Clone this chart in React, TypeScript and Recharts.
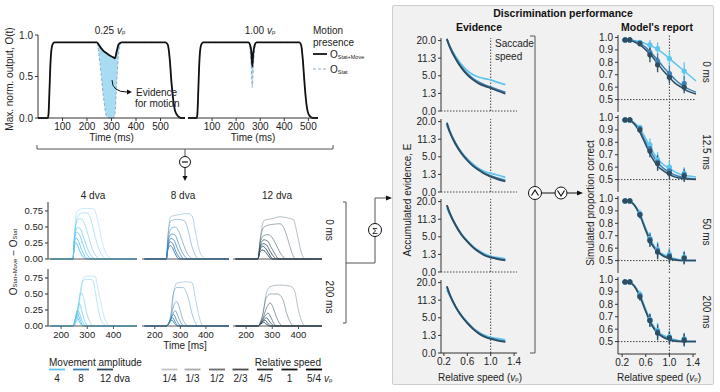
import React from "react";
import {
  LineChart,
  ComposedChart,
  Line,
  Area,
  Scatter,
  ErrorBar,
  XAxis,
  YAxis,
  ReferenceLine,
} from "recharts";

type Pt = [number, number];

const FONT = "'Liberation Sans', Arial, Helvetica, sans-serif";
const INK = "#222";
const PAD = 6; // room above/below the plot so edge tick labels are not clipped

// --- top: max. normalised output over time, for 0.25 vp and 1.00 vp ---
const t25 = [0, 40, 43, 47, 50, 54, 60, 68, 240, 253, 267, 280, 295, 308, 314, 321, 328, 334, 341, 520, 530, 538, 545, 552, 560, 572, 586, 600];
const move25 = [0, 0, 0.05, 0.35, 0.6, 0.8, 0.89, 0.912, 0.912, 0.86, 0.81, 0.78, 0.75, 0.73, 0.72, 0.8, 0.88, 0.9, 0.912, 0.912, 0.88, 0.7, 0.42, 0.22, 0.08, 0.02, 0, 0];
const stat25 = [0, 0, 0.05, 0.35, 0.6, 0.8, 0.89, 0.912, 0.912, 0.66, 0.26, 0.02, 0, 0, 0.05, 0.42, 0.75, 0.87, 0.912, 0.912, 0.88, 0.7, 0.42, 0.22, 0.08, 0.02, 0, 0];

const t100 = [0, 36, 39, 43, 46, 50, 56, 64, 251, 258, 263, 267, 271, 277, 285, 462, 470, 477, 484, 490, 497, 507, 520, 540];
const move100 = [0, 0, 0.05, 0.35, 0.6, 0.8, 0.89, 0.912, 0.912, 0.88, 0.8, 0.62, 0.78, 0.88, 0.912, 0.912, 0.88, 0.7, 0.42, 0.22, 0.08, 0.02, 0, 0];
const stat100 = [0, 0, 0.05, 0.35, 0.6, 0.8, 0.89, 0.912, 0.912, 0.82, 0.6, 0.37, 0.6, 0.82, 0.912, 0.912, 0.88, 0.7, 0.42, 0.22, 0.08, 0.02, 0, 0];

const timeTicksTop = [100, 200, 300, 400, 500];

// --- grid: O_Stat+Move - O_Stat, one curve per relative speed (1/4 ... 5/4) ---
const speedLabels = ["1/4", "1/3", "1/2", "2/3", "4/5", "1", "5/4"];
const ampLabels = ["4", "8", "12 dva"];
const BASE_START: Pt = [160, 0];
const BASE_END: Pt = [490, 0];

const amp4_0ms: Pt[][] = [
  [[245, 0], [252, 0.45], [260, 0.74], [275, 0.78], [300, 0.79], [325, 0.78], [340, 0.6], [355, 0.3], [370, 0.1], [385, 0.02], [400, 0]],
  [[245, 0], [252, 0.4], [262, 0.65], [280, 0.72], [300, 0.72], [315, 0.6], [330, 0.35], [345, 0.15], [360, 0.04], [375, 0]],
  [[245, 0], [252, 0.4], [265, 0.62], [275, 0.63], [290, 0.55], [305, 0.35], [320, 0.15], [335, 0.04], [350, 0]],
  [[245, 0], [252, 0.35], [262, 0.49], [272, 0.48], [285, 0.35], [300, 0.17], [315, 0.05], [330, 0]],
  [[245, 0], [252, 0.32], [260, 0.42], [270, 0.38], [282, 0.25], [295, 0.1], [310, 0.02], [325, 0]],
  [[245, 0], [251, 0.25], [258, 0.33], [266, 0.28], [278, 0.15], [292, 0.04], [305, 0]],
  [[245, 0], [251, 0.2], [256, 0.26], [264, 0.2], [275, 0.09], [288, 0.02], [300, 0]],
];
const amp4_200ms: Pt[][] = [
  [[245, 0], [262, 0.1], [275, 0.5], [285, 0.75], [300, 0.78], [330, 0.78], [340, 0.6], [355, 0.3], [370, 0.08], [385, 0]],
  [[245, 0], [260, 0.1], [272, 0.5], [282, 0.7], [300, 0.73], [320, 0.72], [332, 0.5], [345, 0.2], [360, 0.04], [375, 0]],
  [[245, 0], [258, 0.1], [268, 0.4], [277, 0.52], [285, 0.45], [298, 0.2], [312, 0.05], [325, 0]],
  [[245, 0], [256, 0.12], [265, 0.3], [270, 0.35], [278, 0.25], [290, 0.08], [305, 0]],
  [[245, 0], [255, 0.12], [262, 0.24], [268, 0.22], [278, 0.1], [290, 0.02], [300, 0]],
  [[245, 0], [254, 0.1], [260, 0.2], [266, 0.17], [275, 0.07], [288, 0]],
  [[245, 0], [253, 0.08], [258, 0.15], [264, 0.12], [272, 0.05], [285, 0]],
];
const amp8_0ms: Pt[][] = [
  [[245, 0], [252, 0.4], [262, 0.66], [290, 0.69], [330, 0.71], [345, 0.68], [360, 0.4], [375, 0.12], [390, 0.02], [400, 0]],
  [[245, 0], [252, 0.38], [264, 0.6], [290, 0.62], [315, 0.6], [330, 0.45], [345, 0.2], [360, 0.05], [375, 0]],
  [[245, 0], [252, 0.3], [265, 0.48], [280, 0.5], [295, 0.42], [310, 0.25], [325, 0.1], [340, 0.02], [350, 0]],
  [[245, 0], [252, 0.26], [265, 0.39], [278, 0.38], [292, 0.25], [305, 0.12], [320, 0.03], [335, 0]],
  [[245, 0], [252, 0.22], [263, 0.32], [274, 0.3], [288, 0.17], [300, 0.07], [315, 0]],
  [[245, 0], [251, 0.18], [261, 0.27], [270, 0.24], [282, 0.12], [295, 0.03], [310, 0]],
  [[245, 0], [251, 0.14], [259, 0.21], [268, 0.18], [280, 0.08], [295, 0]],
];
const amp8_200ms: Pt[][] = [
  [[245, 0], [262, 0.15], [275, 0.55], [285, 0.67], [320, 0.69], [345, 0.68], [360, 0.4], [375, 0.12], [390, 0]],
  [[245, 0], [262, 0.15], [272, 0.5], [285, 0.6], [310, 0.6], [330, 0.45], [345, 0.2], [360, 0.04], [372, 0]],
  [[245, 0], [262, 0.12], [275, 0.33], [285, 0.38], [295, 0.3], [308, 0.12], [322, 0.02], [335, 0]],
  [[245, 0], [260, 0.08], [272, 0.2], [280, 0.24], [290, 0.16], [302, 0.05], [315, 0]],
  [[245, 0], [258, 0.07], [268, 0.16], [274, 0.18], [284, 0.1], [296, 0.02], [308, 0]],
  [[245, 0], [256, 0.05], [265, 0.12], [270, 0.13], [280, 0.06], [292, 0]],
  [[245, 0], [255, 0.04], [262, 0.08], [268, 0.09], [277, 0.04], [290, 0]],
];
const amp12_0ms: Pt[][] = [
  [[245, 0], [255, 0.35], [268, 0.6], [300, 0.63], [330, 0.66], [360, 0.64], [380, 0.62], [395, 0.4], [410, 0.12], [425, 0]],
  [[245, 0], [255, 0.32], [268, 0.5], [300, 0.54], [330, 0.55], [345, 0.48], [360, 0.3], [375, 0.1], [390, 0]],
  [[245, 0], [255, 0.28], [270, 0.37], [285, 0.38], [300, 0.33], [315, 0.22], [330, 0.1], [345, 0.02], [355, 0]],
  [[245, 0], [255, 0.22], [268, 0.3], [282, 0.28], [296, 0.18], [310, 0.08], [325, 0]],
  [[245, 0], [254, 0.18], [265, 0.24], [278, 0.22], [292, 0.12], [305, 0.04], [318, 0]],
  [[245, 0], [253, 0.14], [263, 0.2], [274, 0.17], [288, 0.08], [302, 0]],
  [[245, 0], [252, 0.1], [262, 0.14], [272, 0.12], [285, 0.05], [298, 0]],
];
const amp12_200ms: Pt[][] = [
  [[245, 0], [262, 0.15], [280, 0.55], [295, 0.62], [330, 0.64], [370, 0.62], [385, 0.55], [400, 0.25], [415, 0.05], [425, 0]],
  [[245, 0], [262, 0.15], [278, 0.45], [295, 0.5], [320, 0.5], [340, 0.42], [355, 0.2], [370, 0.05], [385, 0]],
  [[245, 0], [262, 0.1], [280, 0.3], [292, 0.36], [302, 0.3], [315, 0.15], [330, 0.03], [340, 0]],
  [[245, 0], [260, 0.08], [275, 0.17], [284, 0.2], [294, 0.14], [306, 0.04], [318, 0]],
  [[245, 0], [258, 0.05], [270, 0.11], [278, 0.13], [288, 0.08], [300, 0.02], [310, 0]],
  [[245, 0], [256, 0.04], [266, 0.08], [272, 0.09], [282, 0.05], [295, 0]],
  [[245, 0], [255, 0.03], [263, 0.05], [268, 0.06], [277, 0.03], [290, 0]],
];

// --- evidence E vs relative speed (light = 4, mid = 8, dark = 12 dva) ---
const evX = [0.25, 0.3, 0.4, 0.5, 0.6, 0.7, 0.8, 0.9, 1.0, 1.1, 1.25];
const ev0ms = [
  [20.5, 17, 12, 8.7, 6.6, 5.3, 4.6, 4.2, 3.9, 3.4, 2.8],
  [21, 16.8, 11.3, 7.8, 5.6, 4.2, 3.3, 2.7, 2.3, 1.9, 1.4],
  [21, 16.5, 11, 7.5, 5.3, 3.9, 3.0, 2.5, 2.1, 1.7, 1.2],
];
const ev12ms = [
  [18, 14.5, 9.5, 6.4, 4.4, 3.1, 2.2, 1.7, 1.4, 1.2, 0.85],
  [19.5, 15, 9.5, 6.2, 4.2, 2.8, 2.0, 1.4, 1.05, 0.8, 0.55],
  [19, 14.5, 9.2, 6.0, 4.0, 2.7, 1.9, 1.3, 0.95, 0.7, 0.45],
];
const ev50ms = [
  [16.5, 13.5, 8.8, 5.8, 3.9, 2.6, 1.8, 1.3, 1.0, 0.85, 0.7],
  [18, 14, 8.9, 5.7, 3.8, 2.5, 1.7, 1.15, 0.9, 0.75, 0.6],
  [18, 14, 8.8, 5.6, 3.7, 2.4, 1.6, 1.1, 0.85, 0.7, 0.55],
];
const ev200ms = [
  [16, 13.2, 8.6, 5.7, 3.8, 2.5, 1.7, 1.25, 1.0, 0.85, 0.7],
  [17.5, 13.8, 8.7, 5.6, 3.7, 2.4, 1.6, 1.1, 0.85, 0.7, 0.55],
  [18, 13.8, 8.6, 5.5, 3.6, 2.3, 1.5, 1.05, 0.8, 0.65, 0.5],
];
const evTicks = [0, 1.25, 5, 11.25, 20];

// --- model's report: simulated proportion correct ---
const ptX = [0.25, 0.33, 0.5, 0.67, 0.8, 1.0, 1.25];
const fitX = [0.2, 0.3, 0.4, 0.5, 0.6, 0.7, 0.8, 0.9, 1.0, 1.1, 1.2, 1.3, 1.45];

const rep0Pts = [
  [0.98, 0.98, 0.96, 0.94, 0.91, 0.83, 0.73],
  [0.98, 0.98, 0.955, 0.88, 0.81, 0.71, 0.63],
  [0.98, 0.98, 0.95, 0.86, 0.78, 0.68, 0.6],
];
const rep0Err = [
  [0.005, 0.005, 0.02, 0.04, 0.05, 0.06, 0.07],
  [0.005, 0.005, 0.02, 0.05, 0.06, 0.06, 0.06],
  [0.005, 0.005, 0.02, 0.06, 0.06, 0.05, 0.05],
];
const rep0Fit = [
  [0.98, 0.98, 0.975, 0.965, 0.95, 0.93, 0.905, 0.87, 0.83, 0.79, 0.75, 0.71, 0.65],
  [0.98, 0.98, 0.97, 0.95, 0.92, 0.87, 0.82, 0.76, 0.71, 0.66, 0.62, 0.59, 0.56],
  [0.98, 0.98, 0.965, 0.94, 0.9, 0.85, 0.79, 0.73, 0.68, 0.63, 0.6, 0.57, 0.545],
];
const rep12Pts = [
  [0.98, 0.98, 0.92, 0.78, 0.66, 0.6, 0.55],
  [0.98, 0.98, 0.91, 0.75, 0.64, 0.57, 0.54],
  [0.98, 0.98, 0.9, 0.73, 0.63, 0.55, 0.53],
];
const rep12Err = [
  [0.005, 0.005, 0.02, 0.05, 0.06, 0.05, 0.05],
  [0.005, 0.005, 0.02, 0.05, 0.06, 0.05, 0.05],
  [0.005, 0.005, 0.02, 0.05, 0.06, 0.05, 0.05],
];
const rep12Fit = [
  [0.98, 0.98, 0.96, 0.91, 0.83, 0.74, 0.67, 0.62, 0.59, 0.56, 0.54, 0.53, 0.52],
  [0.98, 0.98, 0.955, 0.895, 0.8, 0.71, 0.64, 0.59, 0.56, 0.535, 0.52, 0.51, 0.505],
  [0.98, 0.98, 0.95, 0.88, 0.78, 0.68, 0.61, 0.57, 0.54, 0.52, 0.51, 0.505, 0.5],
];
const rep50Pts = [
  [0.98, 0.98, 0.88, 0.68, 0.59, 0.55, 0.53],
  [0.98, 0.98, 0.87, 0.67, 0.58, 0.54, 0.52],
  [0.98, 0.98, 0.87, 0.66, 0.57, 0.53, 0.52],
];
const rep50Err = [
  [0.005, 0.005, 0.03, 0.05, 0.06, 0.05, 0.05],
  [0.005, 0.005, 0.03, 0.05, 0.06, 0.05, 0.05],
  [0.005, 0.005, 0.03, 0.05, 0.06, 0.05, 0.05],
];
const rep50Fit = [
  [0.98, 0.98, 0.955, 0.88, 0.76, 0.65, 0.58, 0.55, 0.53, 0.515, 0.505, 0.5, 0.5],
  [0.98, 0.98, 0.95, 0.87, 0.75, 0.64, 0.575, 0.54, 0.52, 0.51, 0.5, 0.5, 0.5],
  [0.98, 0.98, 0.95, 0.865, 0.74, 0.63, 0.57, 0.535, 0.515, 0.505, 0.5, 0.5, 0.5],
];
const rep200Pts = [
  [0.98, 0.98, 0.88, 0.68, 0.59, 0.54, 0.52],
  [0.98, 0.98, 0.87, 0.67, 0.58, 0.53, 0.52],
  [0.98, 0.98, 0.86, 0.67, 0.57, 0.53, 0.51],
];
const rep200Err = [
  [0.005, 0.005, 0.03, 0.05, 0.06, 0.05, 0.05],
  [0.005, 0.005, 0.03, 0.05, 0.06, 0.05, 0.05],
  [0.005, 0.005, 0.03, 0.05, 0.06, 0.05, 0.05],
];
const rep200Fit = [
  [0.98, 0.98, 0.955, 0.88, 0.76, 0.65, 0.58, 0.55, 0.53, 0.515, 0.505, 0.5, 0.5],
  [0.98, 0.98, 0.95, 0.87, 0.75, 0.64, 0.575, 0.54, 0.52, 0.51, 0.5, 0.5, 0.5],
  [0.98, 0.98, 0.95, 0.862, 0.74, 0.63, 0.568, 0.533, 0.513, 0.503, 0.5, 0.5, 0.5],
];

const ampColors = ["#5ec5ee", "#3c82b6", "#2e4d61"];
const speedOpacity = [0.35, 0.45, 0.55, 0.68, 0.8, 0.9, 1];
const speedGrays = ["#c4c4c4", "#a8a8a8", "#6e6e6e", "#4a4a4a", "#2c2c2c", "#141414", "#000"];

const tick10 = { fontSize: 10, fill: INK };
const tick9 = { fontSize: 9.5, fill: INK };
const AX = "#333";
const RIGHT = 8;
const chartMargin = { top: PAD, right: RIGHT, bottom: PAD, left: 0 };

function TopChart({ left, width, times, move, stat, domain, showY }: any) {
  const data = times.map((t: number, i: number) => ({ t, move: move[i], stat: stat[i], band: [stat[i], move[i]] }));
  const yw = showY ? 34 : 0;
  return (
    <div style={{ position: "absolute", left: left - yw, top: 35 - PAD }}>
      <ComposedChart width={width + yw + RIGHT} height={83 + 26 + 2 * PAD} data={data} margin={chartMargin}>
        <XAxis
          type="number"
          dataKey="t"
          domain={domain}
          ticks={timeTicksTop}
          interval={0}
          tick={tick10}
          tickSize={3}
          stroke={AX}
          height={26}
          label={{ value: "Time (ms)", position: "insideBottom", offset: 3, fontSize: 10, fill: INK }}
        />
        <YAxis
          type="number"
          domain={[0, 1]}
          ticks={[0, 0.5, 1]}
          interval={0}
          tickFormatter={(v: number) => v.toFixed(1)}
          width={yw}
          hide={!showY}
          tick={tick10}
          tickSize={3}
          stroke={AX}
        />
        <Area type="monotone" dataKey="band" fill="#a8dcf3" fillOpacity={1} stroke="none" isAnimationActive={false} />
        <Line type="monotone" dataKey="stat" stroke="#8db0c6" strokeDasharray="3 2" strokeWidth={1} dot={false} isAnimationActive={false} />
        <Line type="monotone" dataKey="move" stroke="#111" strokeWidth={1.8} dot={false} isAnimationActive={false} />
      </ComposedChart>
    </div>
  );
}

function GridPanel({ x, w, y, curves, color, showY, showX }: any) {
  const yw = showY ? 30 : 0;
  const xh = showX ? 14 : 1;
  return (
    <div style={{ position: "absolute", left: x - yw, top: y - PAD }}>
      <LineChart width={w + yw + RIGHT} height={57 + xh + 2 * PAD} margin={chartMargin}>
        <XAxis
          type="number"
          dataKey="t"
          domain={[150, 490]}
          ticks={[200, 300, 400]}
          interval={0}
          tick={showX ? tick9 : false}
          tickLine={showX}
          tickSize={3}
          height={xh}
          stroke="#555"
        />
        <YAxis
          type="number"
          domain={[0, 0.89]}
          ticks={[0, 0.25, 0.5, 0.75]}
          interval={0}
          tickFormatter={(v: number) => v.toFixed(2)}
          width={yw}
          hide={!showY}
          tick={tick9}
          tickSize={3}
          stroke={AX}
        />
        {curves.map((c: Pt[], i: number) => (
          <Line
            key={i}
            data={[BASE_START, ...c, BASE_END].map(([t, v]) => ({ t, v }))}
            dataKey="v"
            type="monotone"
            stroke={color}
            strokeOpacity={speedOpacity[i]}
            strokeWidth={1}
            dot={false}
            activeDot={false}
            isAnimationActive={false}
          />
        ))}
      </LineChart>
    </div>
  );
}

function EvidencePanel({ top, series, last }: any) {
  const yw = 38;
  const xh = last ? 14 : 0;
  return (
    <div style={{ position: "absolute", left: 441 - yw, top: top - PAD }}>
      <LineChart width={76 + yw + RIGHT} height={73 + xh + 2 * PAD} margin={chartMargin}>
        <XAxis
          type="number"
          dataKey="x"
          domain={[0.15, 1.45]}
          ticks={[0.2, 0.6, 1.0, 1.4]}
          interval={0}
          tickFormatter={(v: number) => v.toFixed(1)}
          hide={!last}
          height={xh}
          tick={tick10}
          tickSize={3}
          stroke={AX}
        />
        <YAxis
          type="number"
          dataKey="y"
          scale="sqrt"
          domain={[0, 21.5]}
          ticks={evTicks}
          interval={0}
          tickFormatter={(v: number) => v.toFixed(1)}
          width={yw}
          tick={tick10}
          tickSize={3}
          stroke={AX}
        />
        {!last && <ReferenceLine y={0} stroke="#444" strokeDasharray="1.5 1.5" />}
        <ReferenceLine x={1} stroke="#444" strokeDasharray="1.5 1.5" />
        {series.map((s: number[], i: number) => (
          <Line
            key={i}
            data={evX.map((x, j) => ({ x, y: s[j] }))}
            dataKey="y"
            type="monotone"
            stroke={ampColors[i]}
            strokeWidth={1.8}
            dot={false}
            activeDot={false}
            isAnimationActive={false}
          />
        ))}
      </LineChart>
    </div>
  );
}

function ReportPanel({ top, fits, pts, errs, last }: any) {
  const yw = 30;
  const xh = last ? 14 : 0;
  return (
    <div style={{ position: "absolute", left: 618 - yw, top: top - PAD }}>
      <ComposedChart width={78 + yw + RIGHT} height={77 + xh + 2 * PAD} margin={chartMargin}>
        <XAxis
          type="number"
          dataKey="x"
          domain={[0.13, 1.45]}
          ticks={[0.2, 0.6, 1.0, 1.4]}
          interval={0}
          tickFormatter={(v: number) => v.toFixed(1)}
          hide={!last}
          height={xh}
          tick={tick10}
          tickSize={3}
          stroke={AX}
        />
        <YAxis
          type="number"
          dataKey="y"
          domain={[0.4, 1.02]}
          ticks={[0.5, 0.6, 0.7, 0.8, 0.9, 1.0]}
          interval={0}
          tickFormatter={(v: number) => v.toFixed(1)}
          width={yw}
          tick={tick10}
          tickSize={3}
          stroke={AX}
        />
        <ReferenceLine y={0.5} stroke="#444" strokeDasharray="1.5 1.5" />
        <ReferenceLine x={1} stroke="#444" strokeDasharray="1.5 1.5" />
        {fits.map((f: number[], i: number) => (
          <Line
            key={"f" + i}
            data={fitX.map((x, j) => ({ x, y: f[j] }))}
            dataKey="y"
            type="monotone"
            stroke={ampColors[i]}
            strokeWidth={1.5}
            dot={false}
            activeDot={false}
            isAnimationActive={false}
          />
        ))}
        {pts.map((p: number[], i: number) => (
          <Scatter
            key={"p" + i}
            data={ptX.map((x, j) => ({ x, y: p[j], e: errs[i][j] }))}
            fill={ampColors[i]}
            isAnimationActive={false}
            shape={(d: any) => <circle cx={d.cx} cy={d.cy} r={2.6} fill={ampColors[i]} />}
          >
            <ErrorBar dataKey="e" direction="y" width={0} stroke={ampColors[i]} strokeWidth={1.3} />
          </Scatter>
        ))}
      </ComposedChart>
    </div>
  );
}

function Vp({ size = 6 }: { size?: number }) {
  return (
    <>
      <tspan fontStyle="italic">v</tspan>
      <tspan fontSize={size} dy={2}>p</tspan>
    </>
  );
}

function Overlay() {
  const t = { fontSize: 10, fill: INK } as const;
  const b = { fontSize: 10.5, fill: "#111", fontWeight: 700 } as const;
  const line = { stroke: "#555", strokeWidth: 1, fill: "none" } as const;
  const speedX = [169.5, 192.5, 217, 240.5, 265, 289.5, 314];
  const ampX = [57, 81, 105];
  return (
    <svg width={720} height={392} style={{ position: "absolute", left: 0, top: 0, pointerEvents: "none" }}>
      {/* top panel texts */}
      <text x={110} y={30} textAnchor="middle" dominantBaseline="central" {...t}>
        0.25 <Vp />
      </text>
      <text x={260} y={30} textAnchor="middle" dominantBaseline="central" {...t}>
        1.00 <Vp />
      </text>
      <text transform="translate(9,79) rotate(-90)" textAnchor="middle" dominantBaseline="central" {...t}>
        Max. norm. output, O(t)
      </text>
      <text x={313} y={30} dominantBaseline="central" {...t}>Motion</text>
      <text x={313} y={42} dominantBaseline="central" {...t}>presence</text>
      <line x1={313} y1={54} x2={327} y2={54} stroke="#111" strokeWidth={1.8} />
      <text x={330} y={54} dominantBaseline="central" {...t}>
        O<tspan fontSize={5.5} dy={2.5}>Stat+Move</tspan>
      </text>
      <line x1={313} y1={69} x2={327} y2={69} stroke="#8db0c6" strokeWidth={1} strokeDasharray="3 2" />
      <text x={330} y={69} dominantBaseline="central" {...t}>
        O<tspan fontSize={5.5} dy={2.5}>Stat</tspan>
      </text>
      <text x={136} y={92} dominantBaseline="central" {...t}>Evidence</text>
      <text x={135} y={103} dominantBaseline="central" {...t}>for motion</text>
      <path d="M112,80 Q112,92 127,92" stroke="#111" strokeWidth={1} fill="none" />
      <polygon points="127,89.5 132,92 127,94.5" fill="#111" />

      {/* bracket and minus */}
      <path d="M37,145 V149 H333 V145 M185,149 V156" {...line} />
      <circle cx={185} cy={162} r={5.5} fill="#fff" stroke="#111" strokeWidth={1} />
      <line x1={182} y1={162} x2={188} y2={162} stroke="#111" strokeWidth={1.2} />
      <line x1={185} y1={167.5} x2={185} y2={176} stroke="#111" strokeWidth={1} />
      <polygon points="182.5,176 187.5,176 185,181" fill="#111" />

      {/* grid texts */}
      <text x={93} y={195} textAnchor="middle" dominantBaseline="central" {...t}>4 dva</text>
      <text x={183} y={195} textAnchor="middle" dominantBaseline="central" {...t}>8 dva</text>
      <text x={277} y={195} textAnchor="middle" dominantBaseline="central" {...t}>12 dva</text>
      <text transform="translate(329,230) rotate(90)" textAnchor="middle" dominantBaseline="central" {...t}>0 ms</text>
      <text transform="translate(329,297) rotate(90)" textAnchor="middle" dominantBaseline="central" {...t}>200 ms</text>
      <text transform="translate(13,262) rotate(-90)" textAnchor="middle" dominantBaseline="central" {...t}>
        O<tspan fontSize={6} dy={2}>Stat+Move</tspan>
        <tspan dy={-2}> − O</tspan>
        <tspan fontSize={6} dy={2}>Stat</tspan>
      </text>
      <text x={185} y={345} textAnchor="middle" dominantBaseline="central" {...t}>Time [ms]</text>

      {/* legends */}
      <text x={49} y={362} dominantBaseline="central" {...t}>Movement amplitude</text>
      {ampColors.map((c, i) => (
        <line key={c} x1={49 + i * 24} y1={369.5} x2={65 + i * 24} y2={369.5} stroke={c} strokeWidth={1.8} />
      ))}
      {ampLabels.map((l, i) => (
        <text key={l} x={i < 2 ? ampX[i] : 100} y={378} textAnchor={i < 2 ? "middle" : "start"} dominantBaseline="central" {...t}>
          {l}
        </text>
      ))}
      <text x={321} y={362} textAnchor="end" dominantBaseline="central" {...t}>Relative speed</text>
      {speedLabels.map((l, i) => (
        <g key={l}>
          <line x1={speedX[i] - 8} y1={369.5} x2={speedX[i] + 8} y2={369.5} stroke={speedGrays[i]} strokeWidth={1.8} />
          <text x={speedX[i]} y={378} textAnchor="middle" dominantBaseline="central" {...t}>{l}</text>
        </g>
      ))}
      <text x={324} y={378} dominantBaseline="central" {...t}>
        <Vp />
      </text>

      {/* sum bracket */}
      <path d="M343,202 H346 V323 H343 M346,263 H375 V198 H387" {...line} />
      <polygon points="386,195.5 392,198 386,200.5" fill="#111" />
      <circle cx={375} cy={230} r={6.5} fill="#fff" stroke="#111" strokeWidth={1} />
      <text x={375} y={230.5} textAnchor="middle" dominantBaseline="central" fontSize={9} fill="#111">Σ</text>

      {/* right panel texts */}
      <text x={563} y={13} textAnchor="middle" dominantBaseline="central" {...b}>Discrimination performance</text>
      <text x={479} y={27} textAnchor="middle" dominantBaseline="central" {...b}>Evidence</text>
      <text x={657} y={27} textAnchor="middle" dominantBaseline="central" {...b}>Model's report</text>
      <text x={495} y={43} dominantBaseline="central" {...t}>Saccade</text>
      <text x={495} y={56} dominantBaseline="central" {...t}>speed</text>
      <text transform="translate(407,200) rotate(-90)" textAnchor="middle" dominantBaseline="central" {...t}>
        Accumulated evidence, E
      </text>
      <text transform="translate(590,203) rotate(-90)" textAnchor="middle" dominantBaseline="central" {...t}>
        Simulated proportion correct
      </text>
      {[
        ["0 ms", 72],
        ["12.5 ms", 152],
        ["50 ms", 232],
        ["200 ms", 312],
      ].map(([l, y]) => (
        <text key={l as string} transform={`translate(706,${y}) rotate(90)`} textAnchor="middle" dominantBaseline="central" {...t}>
          {l}
        </text>
      ))}
      <text x={480} y={377} textAnchor="middle" dominantBaseline="central" {...t}>
        Relative speed (<Vp />
        <tspan dy={-2}>)</tspan>
      </text>
      <text x={659} y={377} textAnchor="middle" dominantBaseline="central" {...t}>
        Relative speed (<Vp />
        <tspan dy={-2}>)</tspan>
      </text>

      {/* AND / OR */}
      <path d="M530,36 H535 V353 H530" {...line} />
      <circle cx={535} cy={193} r={6.5} fill="#fff" stroke="#111" strokeWidth={1} />
      <path d="M531.5,195.5 L535,190 L538.5,195.5" stroke="#111" strokeWidth={1.2} fill="none" />
      <line x1={541.5} y1={193} x2={555} y2={193} stroke="#111" strokeWidth={1} />
      <circle cx={561} cy={193} r={6} fill="#fff" stroke="#111" strokeWidth={1} />
      <path d="M557.5,190.5 L561,196 L564.5,190.5" stroke="#111" strokeWidth={1.2} fill="none" />
      <line x1={567} y1={193} x2={577} y2={193} stroke="#111" strokeWidth={1} />
      <polygon points="577,190.5 583,193 577,195.5" fill="#111" />
    </svg>
  );
}

export default function App() {
  const evTops = [38, 119, 199, 280];
  const evSeries = [ev0ms, ev12ms, ev50ms, ev200ms];
  const repTops = [35, 115, 196, 277];
  const repFits = [rep0Fit, rep12Fit, rep50Fit, rep200Fit];
  const repPts = [rep0Pts, rep12Pts, rep50Pts, rep200Pts];
  const repErrs = [rep0Err, rep12Err, rep50Err, rep200Err];
  const gridCols = [
    { x: 48, w: 89, rows: [amp4_0ms, amp4_200ms] },
    { x: 142, w: 87, rows: [amp8_0ms, amp8_200ms] },
    { x: 233, w: 89, rows: [amp12_0ms, amp12_200ms] },
  ];
  return (
    <div
      style={{
        position: "absolute",
        left: 0,
        top: 0,
        width: 720,
        height: 392,
        background: "#fff",
        fontFamily: FONT,
        overflow: "hidden",
      }}
    >
      <div
        style={{
          position: "absolute",
          left: 392,
          top: 5,
          width: 322,
          height: 380,
          background: "#f1f1f1",
          border: "1px solid #cdcdcd",
          borderRadius: 2,
          boxSizing: "border-box",
        }}
      />
      <TopChart left={38} width={147} times={t25} move={move25} stat={stat25} domain={[0, 600]} showY />
      <TopChart left={188} width={130} times={t100} move={move100} stat={stat100} domain={[0, 540]} showY={false} />

      {gridCols.map((col, ci) =>
        col.rows.map((curves, ri) => (
          <GridPanel
            key={`${ci}-${ri}`}
            x={col.x}
            w={col.w}
            y={ri === 0 ? 202 : 269}
            curves={curves}
            color={ampColors[ci]}
            showY={ci === 0}
            showX={ri === 1}
          />
        ))
      )}

      {evTops.map((top, i) => (
        <EvidencePanel key={i} top={top} series={evSeries[i]} last={i === 3} />
      ))}
      {repTops.map((top, i) => (
        <ReportPanel key={i} top={top} fits={repFits[i]} pts={repPts[i]} errs={repErrs[i]} last={i === 3} />
      ))}

      <Overlay />
    </div>
  );
}
